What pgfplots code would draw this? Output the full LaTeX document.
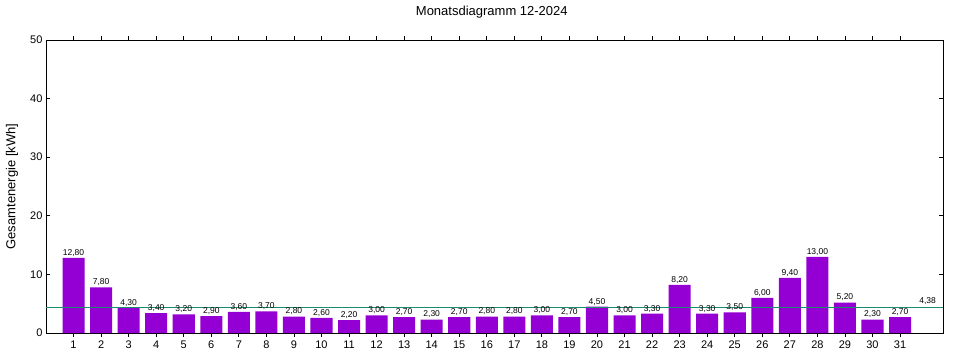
\documentclass[border=0pt]{standalone}
\usepackage{fontspec}
\setmainfont{Liberation Sans}
\usepackage{pgfplots}
\pgfplotsset{compat=1.18}
\definecolor{barc}{HTML}{9400D3}
\definecolor{avgc}{HTML}{1A8C6E}
\begin{document}
\begin{tikzpicture}[x=1pt,y=1pt]
\useasboundingbox (0,0) rectangle (960,360);
\begin{axis}[
  at={(46pt,27pt)}, anchor=origin,
  scale only axis, width=897pt, height=293pt,
  xmin=0, xmax=32.56, ymin=0, ymax=50,
  xtick={1,...,31}, ytick={0,10,...,50},
  tick align=inside, major tick length=4pt,
  axis line style={line width=0.8pt},
  every tick/.style={line width=0.8pt, black},
  tick label style={font=\fontsize{11}{13}\selectfont},
  /pgf/number format/assume math mode=true,
  title={Monatsdiagramm 12-2024},
  title style={font=\fontsize{13}{15}\selectfont, at={(axis description cs:0.497,1)}, anchor=center, yshift=22pt},
  ylabel={Gesamtenergie [kWh]},
  ylabel style={font=\fontsize{13}{15}\selectfont, at={(axis description cs:-0.038,0.5)}, anchor=center, rotate=0},
  ybar, bar width=0.8, bar shift=0pt,
  nodes near coords,
  every node near coord/.append style={font=\fontsize{8.5}{10}\selectfont, yshift=-2pt,
    /pgf/number format/.cd, fixed, fixed zerofill, precision=2, use comma},
  clip=false,
]
\addplot[fill=barc, draw=none] coordinates {
(1,12.8)(2,7.8)(3,4.3)(4,3.4)(5,3.2)(6,2.9)(7,3.6)(8,3.7)(9,2.8)(10,2.6)
(11,2.2)(12,3.0)(13,2.7)(14,2.3)(15,2.7)(16,2.8)(17,2.8)(18,3.0)(19,2.7)(20,4.5)
(21,3.0)(22,3.3)(23,8.2)(24,3.3)(25,3.5)(26,6.0)(27,9.4)(28,13.0)(29,5.2)(30,2.3)(31,2.7)};
\addplot[sharp plot, avgc, line width=0.8pt, nodes near coords={}] coordinates {(0,4.38)(32.56,4.38)};
\node[font=\fontsize{8.5}{10}\selectfont, anchor=south, inner sep=1pt] at (axis cs:32.0,4.6) {4,38};
\end{axis}
\end{tikzpicture}
\end{document}
